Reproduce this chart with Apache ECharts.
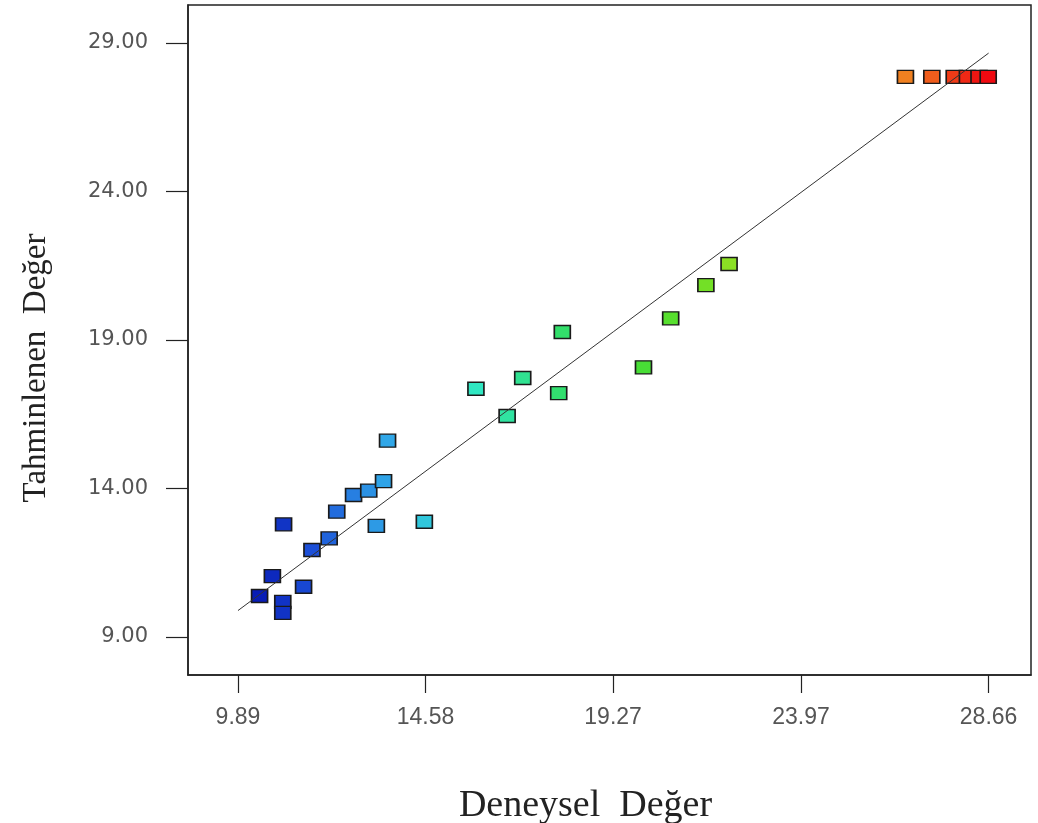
<!DOCTYPE html>
<html>
<head>
<meta charset="utf-8">
<script src="https://cdn.jsdelivr.net/npm/echarts@6/dist/echarts.min.js"></script>
<style>
html,body{margin:0;padding:0;background:#fff;}
#chart{width:1038px;height:823px;}
</style>
</head>
<body>
<div id="chart"></div>
<script>
// Experimental (actual) values
const actual = [10.43, 10.75, 11.01, 11.01, 11.03, 11.53, 11.74, 12.17, 12.36, 12.78,
  13.16, 13.35, 13.53, 13.63, 14.55, 15.84, 16.62, 17.01, 17.91, 18.00,
  20.03, 20.71, 21.59, 22.17, 26.58, 27.24, 27.80, 28.13, 28.42, 28.65];
// Predicted values
const predicted = [10.38, 11.05, 10.18, 9.81, 12.79, 10.69, 11.93, 12.32, 13.22, 13.78,
  13.93, 12.74, 14.25, 15.61, 12.88, 17.36, 16.44, 17.72, 17.21, 19.27,
  18.08, 19.73, 20.85, 21.56, 27.86, 27.86, 27.86, 27.86, 27.86, 27.86];
// y = x reference line end points
const lineX = [9.89, 28.66];
// tick labels
const xTicks = [9.89, 14.58, 19.27, 23.97, 28.66];
const yTicks = [9, 14, 19, 24, 29];
const xName = 'Deneysel  Değer';
const yName = 'Tahminlenen  Değer';

const points = actual.map((v, i) => [v, predicted[i]]);
const linePts = lineX.map(v => [v, v]);

const chart = echarts.init(document.getElementById('chart'), null, {renderer: 'canvas'});
chart.setOption({
  animation: false,
  backgroundColor: '#fff',
  grid: {left: 188, right: 7, top: 5, bottom: 148, outerBoundsMode: 'none', containLabel: false,
    show: true, borderColor: '#222', borderWidth: 1.5, backgroundColor: 'transparent'},
  xAxis: {
    type: 'value', min: 8.64, max: 29.72,
    splitLine: {show: false},
    axisLine: {show: true, lineStyle: {color: '#222', width: 1.5}},
    axisTick: {show: true, length: 18, customValues: xTicks, lineStyle: {color: '#222', width: 1.2}},
    axisLabel: {customValues: xTicks, formatter: v => v.toFixed(2), color: '#555', fontFamily: 'Liberation Sans', fontSize: 23, margin: 31},
    name: xName, nameLocation: 'middle', nameGap: 112,
    nameTextStyle: {fontFamily: 'Liberation Serif', fontSize: 38, color: '#222', padding: [0, 48, 0, 0]}
  },
  yAxis: {
    type: 'value', min: 7.72, max: 30.28,
    splitLine: {show: false},
    axisLine: {show: true, lineStyle: {color: '#222', width: 1.5}},
    axisTick: {show: true, length: 22, customValues: yTicks, lineStyle: {color: '#222', width: 1.2}},
    axisLabel: {customValues: yTicks, formatter: v => v.toFixed(2), color: '#555', fontFamily: 'DejaVu Sans', fontSize: 21, margin: 40},
    name: yName, nameLocation: 'middle', nameGap: 135, nameRotate: 90,
    nameTextStyle: {fontFamily: 'Liberation Serif', fontSize: 33, color: '#222', padding: [0, 56, 0, 0]}
  },
  visualMap: {
    show: false, type: 'continuous', seriesIndex: 1, dimension: 0,
    min: 9.89, max: 28.66,
    inRange: {color: ['#0008a8', '#1c50d8', '#30a8e8', '#30e8d0', '#30e080', '#38dc40', '#60e028', '#b0e020', '#f0c020', '#f07820', '#f00810']}
  },
  series: [
    {type: 'line', data: linePts, symbol: 'none', lineStyle: {color: '#333', width: 1}, z: 3},
    {type: 'scatter', data: points, symbol: 'rect', symbolSize: [16, 13],
     itemStyle: {borderColor: '#1a1a1a', borderWidth: 1.5, opacity: 1}, z: 2}
  ]
});
</script>
</body>
</html>
